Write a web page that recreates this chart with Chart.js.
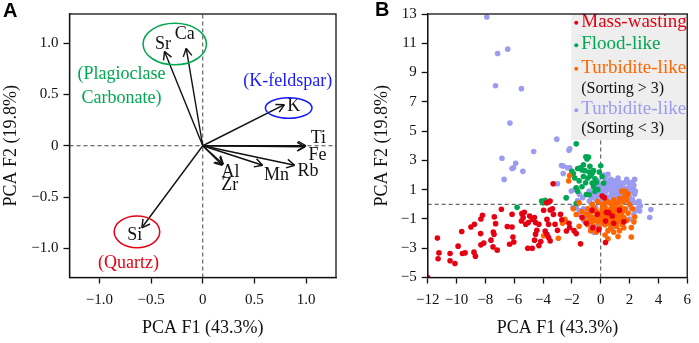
<!DOCTYPE html>
<html>
<head>
<meta charset="utf-8">
<script src="https://cdn.jsdelivr.net/npm/chart.js@4.4.1/dist/chart.umd.min.js"></script>
<style>
body { margin: 0; background: #fff; width: 699px; height: 343px; position: relative; overflow: hidden; }
canvas { position: absolute; top: 0; }
#chartA { left: 0; }
#chartB { left: 350px; }
.tag { position: absolute; font: bold 20px "Liberation Sans"; line-height: 20px; color: #000; }
</style>
</head>
<body>
<canvas id="chartA" width="350" height="343"></canvas>
<canvas id="chartB" width="349" height="343"></canvas>
<div class="tag" style="left:3px;top:0px">A</div>
<div class="tag" style="left:375px;top:-1px">B</div>
<script>
// ---- panel A: element loadings ----
const elemNames = ['Sr', 'Ca', 'K', 'Ti', 'Fe', 'Rb', 'Mn', 'Al', 'Zr', 'Si'];
const loadF1 = [-0.37, -0.16, 0.79, 1.00, 0.99, 0.89, 0.58, 0.20, 0.19, -0.59];
const loadF2 = [0.92, 0.95, 0.40, 0.00, -0.01, -0.19, -0.19, -0.18, -0.19, -0.80];
const tickValuesA = [-1, -0.5, 0, 0.5, 1];
const tickLabelsA = ['\u22121.0', '\u22120.5', '0', '0.5', '1.0'];

// ---- panel B: sample scores [F1, F2] ----
const massWasting = [
  [-12, -5], [-11.33, -2.31], [-11.22, -3.32], [-11.28, -3.72], [-10.45, -3.36], [-10.45, -3.86],
  [-10.11, -4.04], [-9.89, -2.86], [-9.64, -1.86], [-9.59, -3.36], [-9.41, -3.32], [-9.0, -1.55],
  [-8.76, -1.36], [-8.79, -3.27], [-8.69, -3.54], [-8.31, -1.0], [-8.2, -0.75], [-8.33, -2.0],
  [-8.31, -2.77], [-8.11, -2.64], [-7.61, -2.45], [-7.45, -1.89], [-7.4, -2.05], [-7.47, -2.91],
  [-7.18, -3.13], [-7.38, -0.86], [-7.29, -1.32], [-6.89, -0.34], [-6.48, -1.52], [-6.15, -1.55],
  [-6.15, -0.68], [-6.32, -2.73], [-6.03, -2.57], [-6.09, -2.23], [-5.47, -0.64], [-5.38, -0.91],
  [-5.5, -1.14], [-5.2, -1.36], [-5.02, -1.25], [-4.93, -0.8], [-4.75, -1.02], [-4.52, -1.25],
  [-4.29, -1.36], [-5.06, -3.0], [-4.75, -3.0], [-4.59, -2.45], [-4.52, -2.04], [-4.43, -1.77],
  [-4.16, -2.54], [-4.29, -2.82], [-5.3, -0.55], [-4.6, -0.9], [-3.96, -0.41], [-3.73, -1.03],
  [-3.62, -1.37], [-3.28, -0.69], [-3.17, -1.37], [-3.85, -1.82], [-3.73, -2.05], [-3.62, -2.27],
  [-3.51, -2.5], [-3.0, -1.78], [-2.38, -1.82], [-2.16, -1.59], [-3.3, 1.4], [-3.51, 0.22],
  [-3.35, -0.3], [-3.51, -0.39], [-2.79, -0.68], [-3.75, 0.1], [-1.85, -1.8], [-1.7, -2.0],
  [-2.2, -1.3], [-1.4, -2.7], [-0.55, -1.6], [-1.0, -1.3], [-1.3, -0.9], [-2.7, -1.05],
  [0.1, 0.56], [0.26, 0.45], [0.55, -0.57], [-0.24, -0.68], [0.33, -1.14], [-0.13, -1.73],
  [0.33, -2.61], [0.4, -0.55], [0.9, -1.3], [1.3, -0.4], [-0.6, -0.4], [1.6, -1.2], [0.8, -0.8]
];
const floodLike = [
  [-1.7, 4.13], [-1.03, 3.24], [-0.85, 3.22], [-0.95, 3.1], [0.0, 2.63], [-2.0, 2.25], [-1.9, 2.1],
  [-1.6, 2.45], [-1.4, 2.5], [-1.3, 2.35], [-1.1, 2.3], [-0.8, 2.2], [-0.6, 2.1], [-0.5, 2.3],
  [-0.7, 1.95], [-1.2, 1.9], [-0.9, 1.8], [-0.4, 1.75], [-0.3, 1.5], [-0.6, 1.45], [-1.05, 1.47],
  [-1.7, 1.13], [-1.3, 1.2], [-0.5, 1.2], [-0.2, 1.0], [0.2, 1.45], [-1.0, 0.67], [-0.8, 0.65],
  [-2.4, 0.45], [-1.7, 0.06], [-4.1, 0.22], [-3.85, 0.27], [-4.0, 0.1], [-5.8, -0.2], [-1.5, 1.6],
  [-0.1, 2.2], [-1.8, 1.8], [-1.6, 0.9], [-0.4, 0.9], [0.1, 1.9], [-0.75, 2.6], [-1.2, 2.7]
];
const turbHigh = [
  [-2.16, 1.97], [-2.22, 1.6], [-3.96, -2.15], [-2.94, -2.32], [-2.49, -1.03], [-2.45, -1.15],
  [-2.65, -1.3], [-1.7, -0.7], [-1.5, 0.1], [0.5, -2.35], [2.12, -2.23], [2.12, -1.59], [2.35, -0.87],
  [1.56, 0.15], [1.79, 0.56], [1.45, 0.9], [-0.9, -0.3], [-0.7, -0.6], [-0.5, -0.2], [-0.3, -0.5],
  [-0.1, -0.8], [0.1, -0.3], [0.3, -0.2], [0.5, -0.5], [0.7, -0.3], [0.9, -0.6], [1.1, -0.4],
  [1.3, -0.7], [1.5, -0.5], [1.7, -0.3], [1.9, -0.6], [-0.8, -1.0], [-0.6, -1.2], [-0.4, -0.9],
  [-0.2, -1.2], [0.0, -1.0], [0.2, -0.8], [0.4, -1.1], [0.6, -0.9], [0.8, -1.2], [1.0, -1.0],
  [1.2, -1.2], [1.4, -1.0], [1.6, -0.9], [1.8, -1.1], [-1.0, -0.7], [-0.9, -1.4], [-0.5, -1.5],
  [-0.1, -1.6], [0.3, -1.4], [0.7, -1.6], [1.1, -1.5], [1.5, -1.4], [0.9, -1.9], [0.5, -1.8],
  [-0.3, -1.9], [1.3, -1.8], [0.6, 0.1], [0.9, 0.3], [1.2, 0.1], [1.6, 0.5], [1.9, 0.7], [1.7, 0.9],
  [1.3, 0.4], [1.0, 0.0], [0.4, 0.2], [-0.2, 0.2], [-0.6, 0.0], [2.0, 0.0], [2.2, -0.3], [1.0, -0.2],
  [0.2, -0.6], [-0.4, -0.4], [0.8, -0.1], [1.4, -0.2], [0.0, -0.6], [-0.7, -1.8], [0.3, -2.1],
  [1.2, -2.2], [0.1, 0.0], [-1.2, -1.0], [-1.5, -1.5], [-1.3, -0.5], [-1.9, -0.3], [1.8, 0.3],
  [2.3, -1.2], [0.6, -1.3], [1.6, -1.6], [-0.45, -1.1], [0.15, -1.3], [0.75, -0.45], [1.15, -0.8],
  [-0.75, -0.85], [0.45, -0.75], [1.45, -0.6]
];
const turbLow = [
  [-7.9, 12.8], [-7.15, 10.3], [-6.45, 10.6], [-7.3, 8.1], [-5.5, 7.9], [-6.3, 5.55], [-3.05, 4.45],
  [-4.65, 3.6], [-6.85, 3.15], [-5.9, 2.8], [-6.05, 2.5], [-6.15, 2.45], [-5.4, 2.25], [-6.7, 1.7],
  [-2.15, 3.8], [-2.2, 3.7], [-2.72, 2.65], [-2.6, 2.61], [-2.31, 2.5], [-2.15, 2.5], [-3.0, 1.4],
  [-2.38, 0.45], [-1.77, 1.02], [-2.04, 0.91], [-1.48, 0.68], [-1.25, 0.45], [-0.8, 0.22], [-0.58, 0.0],
  [-0.35, -0.23], [-0.01, 1.02], [0.1, 0.8], [0.32, 0.91], [0.55, 1.13], [0.66, 1.36], [0.89, 1.47],
  [-1.48, -0.45], [-1.03, -0.79], [-1.93, -0.23], [-1.7, -0.23], [-1.48, -0.69], [-1.03, -0.69],
  [-1.14, -1.14], [-0.8, -1.37], [-0.58, -0.91], [-0.69, -1.7], [-0.47, -1.93], [0.2, 2.0], [0.5, 2.05],
  [0.3, 1.8], [0.7, 1.7], [1.0, 1.6], [1.3, 1.5], [1.6, 1.45], [1.9, 1.5], [2.2, 1.5], [2.35, 1.7],
  [2.3, 1.3], [2.0, 1.2], [1.7, 1.1], [1.4, 1.2], [1.1, 1.3], [0.8, 1.4], [0.5, 1.3], [0.2, 1.2],
  [-0.1, 1.3], [-0.3, 1.1], [0.0, 0.9], [0.3, 0.8], [0.6, 1.0], [0.9, 0.9], [1.2, 0.9], [1.5, 0.8],
  [1.8, 0.8], [2.1, 0.9], [2.4, 0.9], [2.35, 0.68], [2.0, 0.5], [1.7, 0.5], [1.4, 0.6], [1.1, 0.6],
  [0.8, 0.6], [0.5, 0.5], [0.2, 0.5], [-0.2, 0.6], [-0.5, 0.7], [-0.8, 0.9], [-0.3, 0.3], [0.1, 0.2],
  [0.6, 0.2], [1.0, 0.3], [1.3, 0.2], [1.9, 0.2], [2.2, 0.3], [2.5, 0.1], [2.75, -0.1], [2.7, -0.45],
  [3.48, -0.35], [3.4, -0.9], [2.4, -0.4], [2.1, -0.2], [1.6, 0.3], [0.9, 1.2], [1.5, 1.0], [0.4, 1.5],
  [-0.2, 1.6], [1.2, 1.8], [1.8, 1.7], [2.1, 0.1], [2.3, -0.7], [2.0, -1.0], [1.5, -1.3], [0.8, -1.6],
  [0.2, -1.3], [-0.2, -1.5], [2.55, -0.3], [2.65, 0.2], [0.35, 1.05], [0.75, 0.75], [1.05, 1.05],
  [1.35, 0.95], [1.65, 0.7], [1.95, 1.0], [2.25, 1.1], [0.05, 0.55], [-0.6, 0.45], [-1.2, -0.3],
  [-0.95, -0.5], [-1.6, 0.25], [-2.6, 2.1]
];
const tickValuesBx = [-12, -10, -8, -6, -4, -2, 0, 2, 4, 6];
const tickLabelsBx = ['\u221212', '\u221210', '\u22128', '\u22126', '\u22124', '\u22122', '0', '2', '4', '6'];
const tickValuesBy = [-5, -3, -1, 1, 3, 5, 7, 9, 11, 13];
const tickLabelsBy = ['\u22125', '\u22123', '\u22121', '1', '3', '5', '7', '9', '11', '13'];

const RED = '#e60012', GREEN = '#00a651', ORANGE = '#ff6600', LAV = '#9b9bf2', BLUE = '#1a1aff';
const SERIF = 'Liberation Serif';

// label anchors (data coords) for panel A
const labelPos = {
  Sr: [-0.384, 0.994], Ca: [-0.174, 1.09], K: [0.88, 0.384], Ti: [1.12, 0.074], Fe: [1.11, -0.097],
  Rb: [1.02, -0.253], Mn: [0.713, -0.29], Al: [0.268, -0.258], Zr: [0.261, -0.387], Si: [-0.658, -0.877]
};
const groupNotes = [
  { text: '(Plagioclase', at: [-0.787, 0.694], color: GREEN },
  { text: 'Carbonate)', at: [-0.787, 0.468], color: GREEN },
  { text: '(K-feldspar)', at: [0.823, 0.629], color: BLUE },
  { text: '(Quartz)', at: [-0.718, -1.145], color: RED }
];
const rings = [
  { at: [-0.271, 0.992], rx: 31.7, ry: 20.8, color: GREEN },
  { at: [0.832, 0.368], rx: 23.3, ry: 10.3, color: BLUE },
  { at: [-0.637, -0.84], rx: 22.8, ry: 15.8, color: RED }
];

function axis(pos, min, max, values, labels, title, size, titlePad) {
  return {
    type: 'linear', position: pos, min: min, max: max,
    afterBuildTicks: s => { s.ticks = values.map(v => ({ value: v })); },
    afterFit: s => { if (pos === 'left') s.width = size; else s.height = size; },
    ticks: {
      font: { family: SERIF, size: 15 }, color: '#111', autoSkip: false, maxRotation: 0,
      padding: pos === 'left' ? 5 : 8,
      callback: (v, i) => labels[i]
    },
    grid: { drawOnChartArea: false, drawTicks: true, tickLength: 6, tickColor: '#111', tickWidth: 1.3 },
    border: { display: true, color: '#111', width: 1.3 },
    title: { display: true, text: title, color: '#111', font: { family: SERIF, size: 18 }, padding: titlePad }
  };
}

const frame = {
  id: 'frame',
  afterDraw(chart) {
    const { ctx, chartArea: a } = chart;
    ctx.save();
    ctx.strokeStyle = '#111';
    ctx.lineWidth = 1.3;
    ctx.strokeRect(a.left, a.top, a.right - a.left, a.bottom - a.top);
    ctx.restore();
  }
};

function zeroLines(xmin, xmax, ymin, ymax) {
  const st = { type: 'line', showLine: true, pointRadius: 0, borderColor: '#444', borderWidth: 1, borderDash: [4, 3], fill: false };
  return [
    Object.assign({ data: [{ x: xmin, y: 0 }, { x: xmax, y: 0 }] }, st),
    Object.assign({ data: [{ x: 0, y: ymin }, { x: 0, y: ymax }] }, st)
  ];
}

// ---- chart A ----
const biplotDecor = {
  id: 'biplotDecor',
  afterDatasetsDraw(chart) {
    const { ctx, scales: { x, y } } = chart;
    ctx.save();
    ctx.strokeStyle = '#111';
    ctx.lineWidth = 1.4;
    elemNames.forEach((n, i) => {
      const pts = chart.getDatasetMeta(i).data;
      const p0 = pts[0], p1 = pts[1];
      const ang = Math.atan2(p1.y - p0.y, p1.x - p0.x);
      ctx.beginPath();
      [-0.5, 0.5].forEach(d => {
        ctx.moveTo(p1.x, p1.y);
        ctx.lineTo(p1.x - 9 * Math.cos(ang + d), p1.y - 9 * Math.sin(ang + d));
      });
      ctx.stroke();
    });
    ctx.fillStyle = '#111';
    ctx.textAlign = 'center';
    ctx.textBaseline = 'middle';
    ctx.font = '18px "' + SERIF + '"';
    elemNames.forEach(n => {
      const p = labelPos[n];
      ctx.fillText(n, x.getPixelForValue(p[0]), y.getPixelForValue(p[1]));
    });
    groupNotes.forEach(g => {
      ctx.fillStyle = g.color;
      ctx.fillText(g.text, x.getPixelForValue(g.at[0]), y.getPixelForValue(g.at[1]));
    });
    ctx.lineWidth = 1.5;
    rings.forEach(r => {
      ctx.strokeStyle = r.color;
      ctx.beginPath();
      ctx.ellipse(x.getPixelForValue(r.at[0]), y.getPixelForValue(r.at[1]), r.rx, r.ry, 0, 0, Math.PI * 2);
      ctx.stroke();
    });
    ctx.restore();
  }
};

const arrowSets = elemNames.map((n, i) => ({
  type: 'line', label: n, showLine: true, pointRadius: 0, borderColor: '#111', borderWidth: 1.4,
  data: [{ x: 0, y: 0 }, { x: loadF1[i], y: loadF2[i] }]
}));

new Chart(document.getElementById('chartA'), {
  type: 'scatter',
  data: { datasets: arrowSets.concat(zeroLines(-1.29, 1.29, -1.285, 1.285)) },
  options: {
    responsive: false, animation: false, devicePixelRatio: 1, events: [],
    layout: { padding: { left: 0, top: 12.3, right: 14, bottom: 0 } },
    plugins: { legend: { display: false }, tooltip: { enabled: false } },
    scales: {
      x: axis('bottom', -1.29, 1.29, tickValuesA, tickLabelsA, 'PCA F1 (43.3%)', 65.5, { bottom: 3.5 }),
      y: axis('left', -1.285, 1.285, tickValuesA, tickLabelsA, 'PCA F2 (19.8%)', 69.5, { top: 0 })
    }
  },
  plugins: [biplotDecor, frame]
});

// ---- chart B ----
const legendItems = [
  { text: 'Mass-wasting', color: RED, y: 21.7, dot: true },
  { text: 'Flood-like', color: GREEN, y: 44.3, dot: true },
  { text: 'Turbidite-like', color: ORANGE, y: 67.7, dot: true },
  { text: '(Sorting > 3)', color: '#111', y: 88.3, dot: false },
  { text: 'Turbidite-like', color: LAV, y: 109.3, dot: true },
  { text: '(Sorting < 3)', color: '#111', y: 128.3, dot: false }
];
const boxLegend = {
  id: 'boxLegend',
  afterDatasetsDraw(chart) {
    const { ctx, chartArea: a } = chart;
    ctx.save();
    ctx.fillStyle = '#eeeeee';
    ctx.fillRect(a.right - 116, a.top, 116, 140 - a.top);
    ctx.textBaseline = 'middle';
    ctx.textAlign = 'left';
    const x0 = a.right - 111;
    legendItems.forEach(it => {
      if (it.dot) {
        ctx.fillStyle = it.color;
        ctx.beginPath();
        ctx.arc(x0, it.y + 1, 2, 0, Math.PI * 2);
        ctx.fill();
        ctx.font = '19px "' + SERIF + '"';
      } else {
        ctx.font = '16px "' + SERIF + '"';
      }
      ctx.fillStyle = it.color;
      ctx.fillText(it.text, x0 + 5, it.y);
    });
    ctx.restore();
  }
};

function pts(arr) { return arr.map(p => ({ x: p[0], y: p[1] })); }
function group(label, arr, color) {
  return { label: label, data: pts(arr), pointRadius: 2.8, pointHoverRadius: 2.8, borderWidth: 0, backgroundColor: color, borderColor: color };
}

new Chart(document.getElementById('chartB'), {
  type: 'scatter',
  data: {
    datasets: [
      group('Mass-wasting', massWasting, RED),
      group('Turbidite-like (Sorting > 3)', turbHigh, ORANGE),
      group('Flood-like', floodLike, GREEN),
      group('Turbidite-like (Sorting < 3)', turbLow, LAV)
    ].concat(zeroLines(-12, 6, -5, 13))
  },
  options: {
    responsive: false, animation: false, devicePixelRatio: 1, events: [],
    layout: { padding: { left: 0, top: 12.3, right: 6, bottom: 0 } },
    plugins: { legend: { display: false }, tooltip: { enabled: false } },
    scales: {
      x: axis('bottom', -12, 6, tickValuesBx, tickLabelsBx, 'PCA F1 (43.3%)', 65.5, { bottom: 3.5 }),
      y: axis('left', -5, 13, tickValuesBy, tickLabelsBy, 'PCA F2 (19.8%)', 77.7, { top: 21 })
    }
  },
  plugins: [boxLegend, frame]
});
</script>
</body>
</html>
